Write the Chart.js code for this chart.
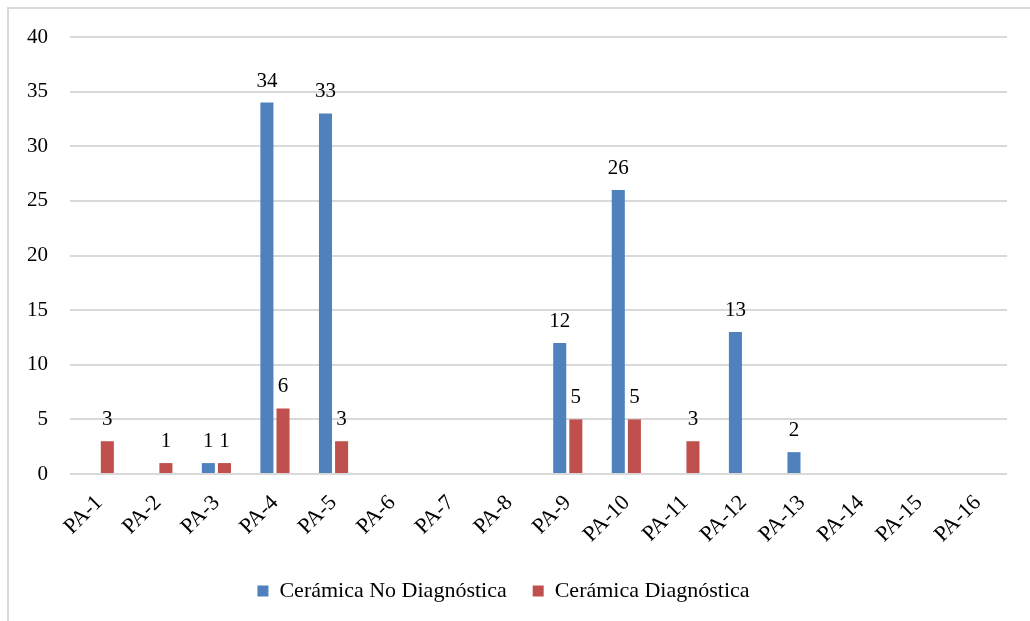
<!DOCTYPE html>
<html>
<head>
<meta charset="utf-8">
<script src="https://cdn.jsdelivr.net/npm/chart.js@4/dist/chart.umd.min.js"></script>
<style>
  html, body { margin: 0; padding: 0; background: #fff; }
  .frame {
    position: absolute; left: 7px; top: 7px; width: 1023px; height: 614px;
    border-top: 2px solid #d9d9d9; border-left: 2px solid #d9d9d9;
  }
  .chart-box { position: absolute; left: 0; top: 0; width: 1030px; height: 621px; }
</style>
</head>
<body>
<div class="frame"></div>
<div class="chart-box"><canvas id="chart"></canvas></div>
<script>
const categories = ['PA-1','PA-2','PA-3','PA-4','PA-5','PA-6','PA-7','PA-8','PA-9','PA-10','PA-11','PA-12','PA-13','PA-14','PA-15','PA-16'];
const noDiagnostica = [0, 0, 1, 34, 33, 0, 0, 0, 12, 26, 0, 13, 2, 0, 0, 0];
const diagnostica = [3, 1, 1, 6, 3, 0, 0, 0, 5, 5, 3, 0, 0, 0, 0, 0];
const yTicks = { min: 0, max: 40, step: 5 };

const serif = '"Liberation Serif", "Times New Roman", serif';

// etiquetas de valor encima de cada barra (solo > 0)
const valueLabels = {
  id: 'valueLabels',
  afterDatasetsDraw(chart) {
    const ctx = chart.ctx;
    ctx.save();
    ctx.font = '21px ' + serif;
    ctx.fillStyle = '#000';
    ctx.textAlign = 'center';
    ctx.textBaseline = 'alphabetic';
    chart.data.datasets.forEach((ds, i) => {
      chart.getDatasetMeta(i).data.forEach((bar, j) => {
        const v = ds.data[j];
        if (!v) return;
        ctx.fillText(String(v), bar.x, bar.y - 16);
      });
    });
    ctx.restore();
  }
};

new Chart(document.getElementById('chart'), {
  type: 'bar',
  data: {
    labels: categories,
    datasets: [
      { label: 'Cerámica No Diagnóstica', data: noDiagnostica, backgroundColor: '#4f81bd' },
      { label: 'Cerámica Diagnóstica', data: diagnostica, backgroundColor: '#c0504d' }
    ]
  },
  options: {
    responsive: true,
    maintainAspectRatio: false,
    animation: false,
    categoryPercentage: 0.55,
    barPercentage: 0.81,
    layout: { padding: { top: 37, right: 23, bottom: 9, left: 0 } },
    plugins: {
      tooltip: { enabled: false },
      legend: {
        position: 'bottom',
        labels: {
          font: { family: serif, size: 22 },
          color: '#000',
          boxWidth: 11,
          boxHeight: 11,
          padding: 26
        }
      }
    },
    scales: {
      x: {
        grid: { display: false },
        border: { display: false },
        ticks: {
          font: { family: serif, size: 22 },
          color: '#000',
          minRotation: 45,
          maxRotation: 45,
          padding: 8
        },
        afterFit(scale) { scale.height = 80; }
      },
      y: {
        min: yTicks.min,
        max: yTicks.max,
        grid: { color: '#d9d9d9', lineWidth: 2, drawTicks: false },
        border: { display: false },
        ticks: {
          stepSize: yTicks.step,
          font: { family: serif, size: 21 },
          color: '#000',
          padding: 22
        },
        afterFit(scale) { scale.width = 70; }
      }
    }
  },
  plugins: [valueLabels]
});
</script>
</body>
</html>
